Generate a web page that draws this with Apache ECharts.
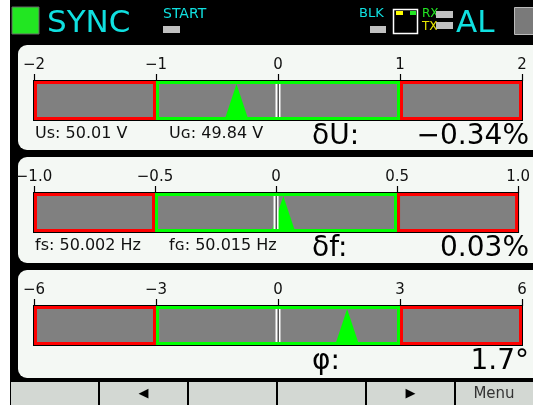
<!DOCTYPE html>
<html>
<head>
<meta charset="utf-8">
<script src="https://cdn.jsdelivr.net/npm/echarts@6/dist/echarts.min.js"></script>
<style>
html, body { margin: 0; padding: 0; background: #fff; }
#main { width: 533px; height: 405px; }
</style>
</head>
<body>
<div id="main"></div>
<script>
// gauge scales
var scaleMin = [-2, -1.0, -6];
var scaleMax = [2, 1.0, 6];
var scaleStep = [1, 0.5, 3];
var scaleDigits = [0, 1, 0];
var greenLimit = [1, 0.5, 3];          // tolerance band
var deviation = [-0.34, 0.03, 1.7];    // pointer position
// readouts
var readoutName = ['δU:', 'δf:', 'φ:'];
var readoutValue = ['−0.34%', '0.03%', '1.7°'];
var measureLeft = ['Us: 50.01 V', 'fs: 50.002 Hz', ''];
var measureRight = ['Uɢ: 49.84 V', 'fɢ: 50.015 Hz', ''];
var buttonLabels = ['', '◀', '', '', '▶', 'Menu'];

// layout
var panelTop = [45, 157, 270];
var panelHeight = [105, 106, 108];
var buttonEdges = [11, 99, 188, 277, 366, 455, 533];
var FONT = 'DejaVu Sans';

var chart = echarts.init(document.getElementById('main'));

function fmtTick(digits) {
    return function (v) {
        if (Math.abs(v) < 1e-9) return '0';
        return (v < 0 ? '−' : '') + Math.abs(v).toFixed(digits);
    };
}

function renderZones(params, api) {     // red / green / red band
    var p0 = api.coord([api.value(0), 1]);
    var p1 = api.coord([api.value(1), 0]);
    var col = api.value(2) == 1 ? '#00ff00' : '#ff0000';
    var children = [];
    if (params.dataIndex == 0) {
        var a = api.coord([scaleMin[params.seriesIndex / 3], 1]);
        var b = api.coord([scaleMax[params.seriesIndex / 3], 0]);
        children.push({ type: 'rect', shape: { x: a[0] - 1, y: a[1] - 1, width: b[0] - a[0] + 2, height: b[1] - a[1] + 2 }, style: { fill: '#000' } });
    }
    children.push({
        type: 'rect',
        shape: { x: p0[0] + 1.5, y: p0[1] + 1.5, width: p1[0] - p0[0] - 3, height: p1[1] - p0[1] - 3 },
        style: { fill: '#808080', stroke: col, lineWidth: 3 }
    });
    return { type: 'group', children: children };
}

function renderPointer(params, api) {    // green triangle
    var top = api.coord([api.value(0), 1]);
    var bot = api.coord([api.value(0), 0]);
    return {
        type: 'polygon',
        shape: { points: [[top[0], top[1] + 3], [top[0] - 11, bot[1] - 3], [top[0] + 11, bot[1] - 3]] },
        style: { fill: '#00ff00' }
    };
}

function renderZero(params, api) {       // zero marker
    var top = api.coord([0, 1]);
    var bot = api.coord([0, 0]);
    return {
        type: 'group',
        children: [
            { type: 'rect', shape: { x: top[0] - 2.5, y: top[1] + 3, width: 5, height: bot[1] - top[1] - 6 }, style: { fill: '#fff' } },
            { type: 'rect', shape: { x: top[0] - 0.5, y: top[1] + 3, width: 1.5, height: bot[1] - top[1] - 6 }, style: { fill: '#555' } }
        ]
    };
}

var grids = [], xAxes = [], yAxes = [], series = [];
var graphics = [];

graphics.push({ type: 'rect', shape: { x: 0, y: 0, width: 10, height: 405 }, style: { fill: '#fff' } });

// top status bar
graphics.push({ type: 'rect', shape: { x: 12, y: 7, width: 27, height: 27 }, style: { fill: '#22e622', stroke: '#666', lineWidth: 1 } });
graphics.push({ type: 'text', x: 47, y: 24, style: { text: 'SYNC', fill: '#10e0e0', font: '31px ' + FONT, verticalAlign: 'middle' } });
graphics.push({ type: 'text', x: 163, y: 14, style: { text: 'START', fill: '#10e0e0', font: '14px ' + FONT, verticalAlign: 'middle' } });
graphics.push({ type: 'rect', shape: { x: 163, y: 26, width: 17, height: 7 }, style: { fill: '#c0c0c0' } });
graphics.push({ type: 'text', x: 359, y: 14, style: { text: 'BLK', fill: '#10e0e0', font: '13px ' + FONT, verticalAlign: 'middle' } });
graphics.push({ type: 'rect', shape: { x: 370, y: 26, width: 16, height: 7 }, style: { fill: '#c0c0c0' } });
graphics.push({ type: 'rect', shape: { x: 393.5, y: 9.5, width: 24, height: 24 }, style: { fill: '#000', stroke: '#fff', lineWidth: 1.5 } });
graphics.push({ type: 'rect', shape: { x: 396, y: 11, width: 7, height: 4 }, style: { fill: '#ffff00' } });
graphics.push({ type: 'rect', shape: { x: 410, y: 11, width: 6, height: 4 }, style: { fill: '#22e622' } });
graphics.push({ type: 'text', x: 422, y: 14, style: { text: 'RX', fill: '#22e622', font: '12px ' + FONT, verticalAlign: 'middle' } });
graphics.push({ type: 'text', x: 422, y: 27, style: { text: 'TX', fill: '#e6e600', font: '12px ' + FONT, verticalAlign: 'middle' } });
graphics.push({ type: 'rect', shape: { x: 436, y: 11, width: 17, height: 7 }, style: { fill: '#c0c0c0' } });
graphics.push({ type: 'rect', shape: { x: 436, y: 22, width: 17, height: 7 }, style: { fill: '#c0c0c0' } });
graphics.push({ type: 'text', x: 456, y: 24, style: { text: 'AL', fill: '#10e0e0', font: '31px ' + FONT, verticalAlign: 'middle' } });
graphics.push({ type: 'rect', shape: { x: 514.5, y: 7.5, width: 25, height: 27 }, style: { fill: '#7a7a7a', stroke: '#bbb', lineWidth: 1 } });

for (var i = 0; i < 3; i++) {
    var pt = panelTop[i];
    graphics.push({ type: 'rect', shape: { x: 18, y: pt, width: 530, height: panelHeight[i], r: [9, 0, 0, 9] }, style: { fill: '#f4f8f4' } });
    graphics.push({ type: 'text', x: 35, y: pt + 89, style: { text: measureLeft[i], fill: '#111', font: '16px ' + FONT, verticalAlign: 'middle' } });
    graphics.push({ type: 'text', x: 169, y: pt + 89, style: { text: measureRight[i], fill: '#111', font: '16px ' + FONT, verticalAlign: 'middle' } });
    graphics.push({ type: 'text', x: 312, y: pt + 92, style: { text: readoutName[i], fill: '#000', font: '28px ' + FONT, verticalAlign: 'middle' } });
    graphics.push({ type: 'text', x: 529, y: pt + 92, style: { text: readoutValue[i], fill: '#000', font: '28px ' + FONT, align: 'right', verticalAlign: 'middle' } });

    grids.push({ left: 34, right: 11, top: pt + 36, height: 39 });
    xAxes.push({
        gridIndex: i, type: 'value', position: 'top',
        min: scaleMin[i], max: scaleMax[i], interval: scaleStep[i],
        axisLine: { show: true, onZero: false, lineStyle: { color: '#000', width: 1 } },
        axisTick: { show: true, inside: false, length: 7, lineStyle: { color: '#000', width: 1.2 } },
        axisLabel: { color: '#111', fontFamily: FONT, fontSize: 15, margin: 8, formatter: fmtTick(scaleDigits[i]) },
        splitLine: { show: false }
    });
    yAxes.push({ gridIndex: i, type: 'value', min: 0, max: 1, show: false });

    var zones = [
        [scaleMin[i], -greenLimit[i], 0],
        [-greenLimit[i], greenLimit[i], 1],
        [greenLimit[i], scaleMax[i], 0]
    ];
    series.push({ type: 'custom', xAxisIndex: i, yAxisIndex: i, renderItem: renderZones, data: zones, silent: true });
    series.push({ type: 'custom', xAxisIndex: i, yAxisIndex: i, renderItem: renderPointer, data: [[deviation[i]]], silent: true, z: 3 });
    series.push({ type: 'custom', xAxisIndex: i, yAxisIndex: i, renderItem: renderZero, data: [[0]], silent: true, z: 4 });
}

// soft-key bar
graphics.push({ type: 'rect', shape: { x: 11, y: 382, width: 522, height: 23 }, style: { fill: '#d3d8d3' } });
for (var k = 0; k < buttonLabels.length; k++) {
    if (k > 0) {
        graphics.push({ type: 'rect', shape: { x: buttonEdges[k] - 1, y: 382, width: 2, height: 23 }, style: { fill: '#000' } });
    }
    graphics.push({
        type: 'text', x: (buttonEdges[k] + buttonEdges[k + 1]) / 2, y: 394,
        style: { text: buttonLabels[k], fill: buttonLabels[k] == 'Menu' ? '#333' : '#000', font: (buttonLabels[k] == 'Menu' ? '15px ' : '13px ') + FONT, align: 'center', verticalAlign: 'middle' }
    });
}

var option = {
    backgroundColor: '#000',
    animation: false,
    grid: grids,
    xAxis: xAxes,
    yAxis: yAxes,
    series: series,
    graphic: { elements: graphics }
};
chart.setOption(option);
</script>
</body>
</html>
